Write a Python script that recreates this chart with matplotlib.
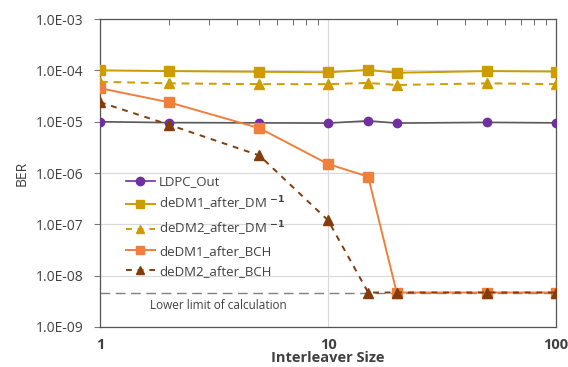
import matplotlib
matplotlib.use("Agg")
import matplotlib.pyplot as plt
from matplotlib.lines import Line2D
from matplotlib.ticker import FixedLocator, NullFormatter

x = [1, 2, 5, 10, 15, 20, 50, 100]
ldpc_out = [1.0e-5, 9.6e-6, 9.5e-6, 9.4e-6, 1.04e-5, 9.4e-6, 9.7e-6, 9.5e-6]
dedm1_dm = [1.0e-4, 9.7e-5, 9.4e-5, 9.2e-5, 1.02e-4, 9.0e-5, 9.7e-5, 9.5e-5]
dedm2_dm = [6.0e-5, 5.6e-5, 5.4e-5, 5.4e-5, 5.7e-5, 5.2e-5, 5.6e-5, 5.4e-5]
dedm1_bch = [4.5e-5, 2.4e-5, 7.5e-6, 1.5e-6, 8.5e-7, 4.7e-9, 4.7e-9, 4.7e-9]
dedm2_bch = [2.4e-5, 8.8e-6, 2.2e-6, 1.2e-7, 4.7e-9, 4.7e-9, 4.7e-9, 4.7e-9]
lower_limit = 4.7e-9

ytick_vals = [1e-9, 1e-8, 1e-7, 1e-6, 1e-5, 1e-4, 1e-3]
ytick_labels = ["1.0E-09", "1.0E-08", "1.0E-07", "1.0E-06", "1.0E-05", "1.0E-04", "1.0E-03"]
xtick_vals = [1, 10, 100]
xtick_labels = ["1", "10", "100"]

purple = "#7030A0"
gold = "#CC9C00"
orange = "#F07F3C"
brown = "#843C0C"
txt = "#404040"

plt.rcParams['font.family'] = ['Open Sans', 'DejaVu Sans']

fig = plt.figure(figsize=(5.68, 3.67), dpi=100)
ax = fig.add_axes([0.176, 0.109, 0.803, 0.839])
ax.set_xscale('log')
ax.set_yscale('log')
ax.set_xlim(1, 100)
ax.set_ylim(1e-9, 1e-3)

ax.yaxis.set_major_locator(FixedLocator(ytick_vals))
ax.yaxis.set_minor_locator(FixedLocator([]))
ax.set_yticks(ytick_vals)
ax.set_yticklabels(ytick_labels, fontsize=10, color=txt)
ax.set_xticks(xtick_vals)
ax.set_xticklabels(xtick_labels, fontsize=10.5, color=txt, fontweight='bold')
ax.xaxis.set_minor_formatter(NullFormatter())
ax.tick_params(axis='x', which='major', length=0, pad=8)
ax.tick_params(axis='x', which='minor', top=True, bottom=False, direction='in', length=4, color='#555555')
ax.tick_params(axis='y', which='major', length=4, color='#777777', pad=8)

ax.grid(True, which='major', axis='both', color='#D9D9D9', lw=0.8)
for s in ax.spines.values():
    s.set_color('#555555')
    s.set_linewidth(0.9)

ax.axhline(lower_limit, color='#808080', lw=1.0, ls=(0, (7, 4)), zorder=1)
ax.text(3.3, 2.6e-9, "Lower limit of calculation", fontsize=8.5, color=txt, ha='center', va='center')

ax.plot(x, ldpc_out, color='#595959', lw=1.2, marker='o', ms=6, mfc=purple, mec=purple, zorder=3)
ax.plot(x, dedm1_dm, color=gold, lw=1.4, marker='s', ms=6.5, mfc=gold, mec=gold, zorder=3)
ax.plot(x, dedm2_dm, color=gold, lw=1.4, ls=(0, (4, 3)), marker='^', ms=7.5, mfc=gold, mec=gold, zorder=3)
ax.plot(x, dedm1_bch, color=orange, lw=1.4, marker='s', ms=6.5, mfc=orange, mec=orange, zorder=4)
ax.plot(x, dedm2_bch, color=brown, lw=1.4, ls=(0, (3, 3)), marker='^', ms=7.5, mfc=brown, mec=brown, zorder=4)

handles = [
    Line2D([], [], color=purple, lw=1.2, marker='o', ms=6),
    Line2D([], [], color=gold, lw=1.4, marker='s', ms=5.5),
    Line2D([], [], color=gold, lw=1.4, ls=(0, (3, 3)), marker='^', ms=6),
    Line2D([], [], color=orange, lw=1.4, marker='s', ms=5.5),
    Line2D([], [], color=brown, lw=1.4, ls=(0, (3, 3)), marker='^', ms=6),
]
labels = ["LDPC_Out",
          r"deDM1_after_DM $^{\mathbf{-1}}$",
          r"deDM2_after_DM $^{\mathbf{-1}}$",
          "deDM1_after_BCH",
          "deDM2_after_BCH"]
leg = ax.legend(handles, labels, loc='upper left', bbox_to_anchor=(0.045, 0.51),
                frameon=False, fontsize=9.5, handlelength=2.2, handletextpad=0.3,
                labelspacing=0.5, borderaxespad=0)
for t in leg.get_texts():
    t.set_color(txt)

ax.set_ylabel("BER", fontsize=10, color=txt, labelpad=4)
ax.set_xlabel("Interleaver Size", fontsize=10.5, color=txt, fontweight='bold', labelpad=-1)

fig.savefig("out.png", dpi=100)
